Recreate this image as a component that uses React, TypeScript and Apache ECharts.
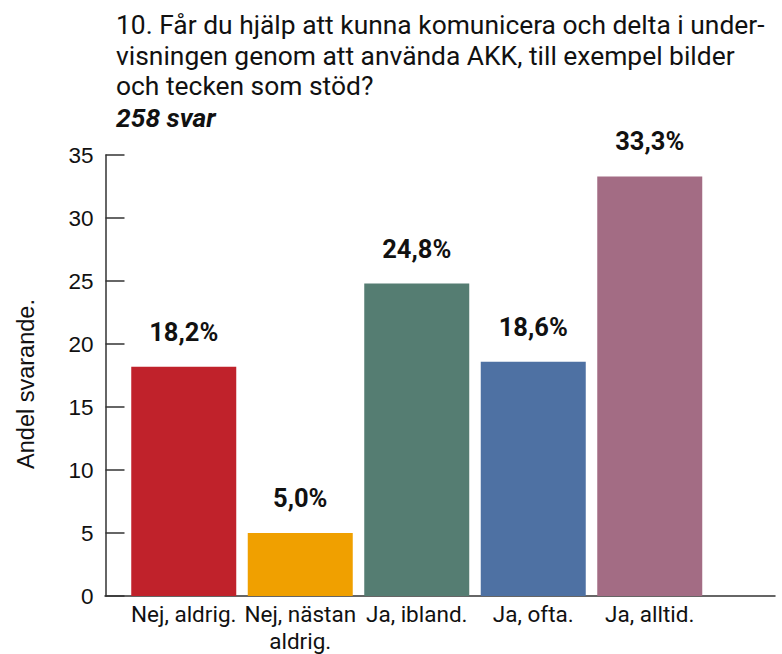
import React, { useEffect, useRef } from "react";
import * as echarts from "echarts";

const categories = ["Nej, aldrig.", "Nej, nästan\naldrig.", "Ja, ibland.", "Ja, ofta.", "Ja, alltid."];
const values = [18.2, 5.0, 24.8, 18.6, 33.3];
const colors = ["#C0222B", "#F0A000", "#557D72", "#4E71A3", "#A36C84"];
const titleLines = [
  "10. Får du hjälp att kunna komunicera och delta i under-",
  "visningen genom att använda AKK, till exempel bilder",
  "och tecken som stöd?",
];
const subtitle = "258 svar";
const yAxisName = "Andel svarande.";

export default function App() {
  const ref = useRef<HTMLDivElement>(null);
  useEffect(() => {
    document.body.style.margin = "0";
    const chart = echarts.init(ref.current!, undefined, { renderer: "svg" });
    const font = "Roboto";
    const sans = "Liberation Sans";
    chart.setOption({
      animation: false,
      title: [
        {
          text: titleLines.join("\n"),
          left: 116,
          top: 10,
          padding: 0,
          textStyle: { fontFamily: font, fontSize: 26.4, fontWeight: "normal", color: "#111", lineHeight: 30.5 },
        },
        {
          text: subtitle,
          left: 116,
          top: 103,
          padding: 0,
          textStyle: { fontFamily: font, fontSize: 26.4, fontWeight: "bold", fontStyle: "italic", color: "#111", lineHeight: 30 },
        },
      ],
      grid: [
        { left: 125.5, width: 582.5, top: 155, bottom: 58, outerBoundsMode: "none", containLabel: false },
        { left: 105, right: 7, top: 155, bottom: 58, outerBoundsMode: "none", containLabel: false },
      ],
      xAxis: [
        {
          type: "category",
          gridIndex: 0,
          data: categories,
          axisLine: { show: false },
          axisTick: { show: false },
          axisLabel: { fontFamily: font, fontSize: 22.5, color: "#111", margin: 4, lineHeight: 27, interval: 0 },
        },
        {
          type: "value",
          gridIndex: 1,
          min: 0,
          max: 1,
          axisLine: { show: true, lineStyle: { color: "#333", width: 1.5 } },
          axisTick: { show: false },
          axisLabel: { show: false },
          splitLine: { show: false },
        },
      ],
      yAxis: [
        {
          type: "value",
          gridIndex: 0,
          min: 0,
          max: 35,
          interval: 5,
          offset: 20,
          name: yAxisName,
          nameLocation: "middle",
          nameGap: 68,
          nameTextStyle: { fontFamily: sans, fontSize: 23.5, color: "#111", padding: [0, 17, 0, 0] },
          axisLine: { show: true, lineStyle: { color: "#333", width: 1.5 } },
          axisTick: { show: true, inside: true, length: 19, lineStyle: { color: "#333", width: 1.5 } },
          axisLabel: { fontFamily: sans, fontSize: 22.5, color: "#111", margin: 12 },
          splitLine: { show: false },
        },
        {
          type: "value",
          gridIndex: 1,
          show: false,
        },
      ],
      series: [
        {
          type: "bar",
          xAxisIndex: 0,
          yAxisIndex: 0,
          barWidth: 105,
          data: values.map((v, i) => ({ value: v, itemStyle: { color: colors[i] } })),
          label: {
            show: true,
            position: "top",
            distance: 22,
            fontFamily: font,
            fontSize: 25.5,
            fontWeight: "bold",
            color: "#111",
            formatter: (p: any) => p.value.toFixed(1).replace(".", ",") + "%",
          },
        },
      ],
    });
    return () => chart.dispose();
  }, []);
  return <div ref={ref} style={{ width: 782, height: 654 }} />;
}
